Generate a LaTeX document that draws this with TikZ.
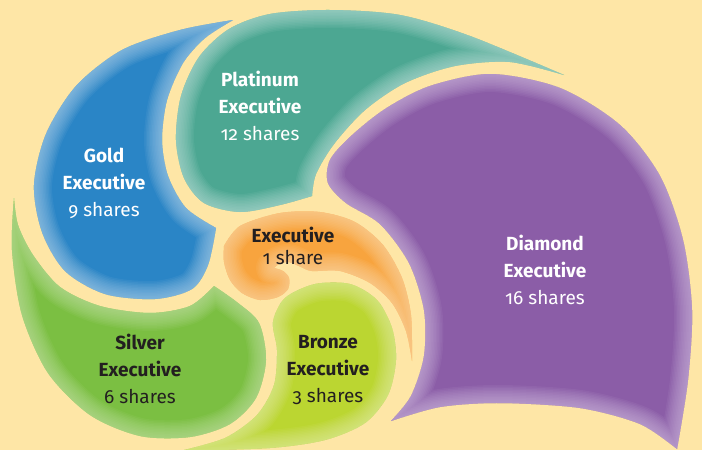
\documentclass[tikz,border=0pt]{standalone}
\usepackage{fontspec}
\setmainfont{Fira Sans}[Numbers=OldStyle]

\definecolor{paper}{HTML}{FEE6A6}
\definecolor{gold}{HTML}{2A85C6}
\definecolor{goldglow}{HTML}{B3D5EE}
\definecolor{platinum}{HTML}{4CA792}
\definecolor{platinumglow}{HTML}{BFE3DB}
\definecolor{diamond}{HTML}{8B5DA7}
\definecolor{diamondglow}{HTML}{D3BEE2}
\definecolor{executive}{HTML}{F8A43E}
\definecolor{executiveglow}{HTML}{FEDDB0}
\definecolor{bronze}{HTML}{BBD631}
\definecolor{bronzeglow}{HTML}{E6F0A8}
\definecolor{silver}{HTML}{7BBF42}
\definecolor{silverglow}{HTML}{C6E4A8}
\definecolor{ink}{HTML}{231F20}

\pgfdeclarelayer{bg}
\pgfsetlayers{bg,main}

\tikzset{
  rank/.style={align=center, font=\fontsize{19}{27}\selectfont},
  rank light/.style={rank, text=white},
  rank dark/.style={rank, text=ink}
}

% one chamber of the shell: fill, then a soft rim inside it
\newcommand{\chamber}[3]{%
  \fill[#2] #1;
  \begin{scope}
    \clip #1;
    \foreach \w in {3,6,...,36}
      \draw[#3, line width=\w pt, opacity=0.075, line join=round] #1;
  \end{scope}}

\def\goldpath{plot[smooth] coordinates {(233,20) (180,30) (122,50) (76,86) (46,134) (34,185) (42,232) (65,271) (105,294) (155,299) (192,289) (208,265) (216,228)}
  -- plot[smooth] coordinates {(216,228) (186,208) (168,176) (162,140) (167,100) (183,63) (205,38) (233,20)} -- cycle}
\def\platinumpath{plot[smooth] coordinates {(312,196) (280,205) (240,212) (204,203) (184,178) (176,140) (181,96) (199,57) (229,29) (270,14) (330,10) (400,15) (470,36) (564,75)}
  -- plot[smooth] coordinates {(564,75) (510,62) (455,66) (405,83) (365,110) (334,144) (316,174) (312,196)} -- cycle}
\def\diamondpath{plot[smooth] coordinates {(391,421) (411,396) (424,356) (424,310) (409,263) (380,224) (346,203) (328,183) (330,160) (350,137) (385,109) (430,86) (491,74) (560,88) (620,125) (660,176) (683,240) (692,310) (688,380) (677,449)}
  -- plot[smooth] coordinates {(677,449) (640,424) (580,408) (500,403) (440,407) (391,421)} -- cycle}
\def\executivepath{plot[smooth] coordinates {(224,246) (240,226) (280,213) (320,212) (355,222) (383,245) (402,278) (411,315) (412,361)}
  -- plot[smooth] coordinates {(412,361) (406,331) (392,303) (370,283) (340,271) (312,271) (301,267) (289,262) (279,264) (274,268)}
  -- plot[smooth] coordinates {(274,268) (283,271) (289,278) (288,289) (278,297) (260,300) (242,293) (230,280) (224,262) (224,246)} -- cycle}
\def\bronzepath{plot[smooth] coordinates {(180,451) (225,438) (257,415) (274,385) (277,350) (273,322) (285,298) (315,284) (350,284) (377,300) (392,328) (396,360) (388,395) (365,423) (325,440) (270,448) (180,451)} -- cycle}
\def\silverpath{plot[smooth] coordinates {(214,286) (190,306) (150,313) (100,306) (60,287) (33,255) (18,225) (14,198)}
  -- plot[smooth] coordinates {(14,198) (12,250) (22,315) (48,373) (90,415) (140,436) (190,437) (230,424) (256,398) (266,360) (259,323) (238,303) (214,286)} -- cycle}

\begin{document}
\begin{tikzpicture}[x=1pt, y=-1pt]

  \useasboundingbox (0,0) rectangle (702,450);
  \begin{pgfonlayer}{bg}
  \fill[paper] (0,0) rectangle (702,450);
  \end{pgfonlayer}

  % spiral chambers
  \chamber{\goldpath}{gold}{goldglow}
  \chamber{\platinumpath}{platinum}{platinumglow}
  \chamber{\diamondpath}{diamond}{diamondglow}
  \chamber{\executivepath}{executive}{executiveglow}
  \chamber{\bronzepath}{bronze}{bronzeglow}
  \chamber{\silverpath}{silver}{silverglow}

  % labels
  \node[rank light] (platinum) at (260,106) {\textbf{Platinum}\\\textbf{Executive}\\12 shares};
  \node[rank light] (gold) at (104,183) {\textbf{Gold}\\\textbf{Executive}\\9 shares};
  \node[rank light] (diamond) at (545,270) {\textbf{Diamond}\\\textbf{Executive}\\16 shares};
  \node[rank dark, font=\fontsize{19}{22}\selectfont] (executive) at (293,246) {\textbf{Executive}\\1 share};
  \node[rank dark] (silver) at (140,369) {\textbf{Silver}\\\textbf{Executive}\\6 shares};
  \node[rank dark] (bronze) at (328,370) {\textbf{Bronze}\\\textbf{Executive}\\3 shares};

\end{tikzpicture}
\end{document}
